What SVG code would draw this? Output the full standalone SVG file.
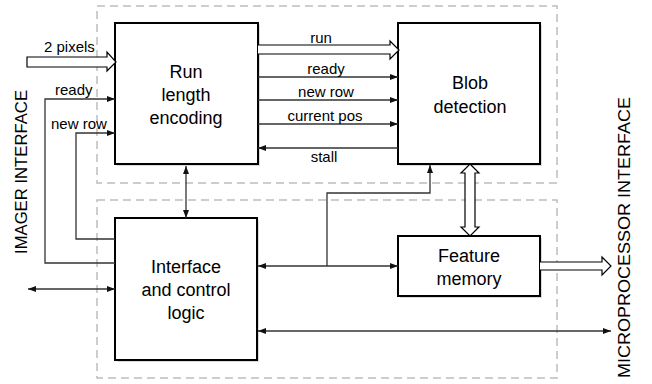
<svg xmlns="http://www.w3.org/2000/svg" width="652" height="384" viewBox="0 0 652 384">
<style>
.box{fill:#fff;stroke:#000;stroke-width:2}
.shadow{fill:#999;opacity:0.35}
.dash{fill:none;stroke:#bdbdbd;stroke-width:1.5;stroke-dasharray:8,5}
.btxt{font-family:"Liberation Sans",Arial,sans-serif;font-size:18px;fill:#000;text-anchor:middle}
.lbl{font-family:"Liberation Sans",Arial,sans-serif;font-size:15px;fill:#000}
.side{font-family:"Liberation Sans",Arial,sans-serif;font-size:17px;fill:#000}
.ln{fill:none;stroke:#333;stroke-width:1.3}
.hol{fill:#fff;stroke:#000;stroke-width:1.2}
</style>
<defs>
<marker id="ah" viewBox="0 0 8 6" refX="8" refY="3" markerWidth="8" markerHeight="6" markerUnits="userSpaceOnUse" orient="auto-start-reverse">
<path d="M0,0 L8,3 L0,6 z" fill="#111"/>
</marker>
</defs>
<rect class="dash" x="97" y="6" width="460" height="177"/>
<rect class="dash" x="97" y="200" width="460" height="178"/>
<text class="side" transform="translate(27,254) rotate(-90)" textLength="164" lengthAdjust="spacingAndGlyphs">IMAGER INTERFACE</text>
<text class="side" transform="translate(630,378) rotate(-90)" textLength="281" lengthAdjust="spacingAndGlyphs">MICROPROCESSOR  INTERFACE</text>
<g id="rle">
<rect class="shadow" x="117" y="25" width="143" height="141"/>
<rect class="box" x="115" y="23" width="143" height="141"/>
<text class="btxt" x="186" y="78">Run</text>
<text class="btxt" x="186" y="101">length</text>
<text class="btxt" x="186" y="124">encoding</text>
</g>
<g id="blob">
<rect class="shadow" x="400" y="25" width="142" height="141"/>
<rect class="box" x="398" y="23" width="142" height="141"/>
<text class="btxt" x="470" y="89">Blob</text>
<text class="btxt" x="470" y="113">detection</text>
</g>
<g id="iface">
<rect class="shadow" x="117" y="220" width="142" height="142"/>
<rect class="box" x="115" y="218" width="142" height="142"/>
<text class="btxt" x="186" y="273">Interface</text>
<text class="btxt" x="186" y="296">and control</text>
<text class="btxt" x="186" y="319">logic</text>
</g>
<g id="fmem">
<rect class="shadow" x="400" y="238" width="142" height="60"/>
<rect class="box" x="398" y="236" width="142" height="60"/>
<text class="btxt" x="469" y="262">Feature</text>
<text class="btxt" x="469" y="285">memory</text>
</g>
<g id="connectors">
<!-- 2 pixels -->
<path class="hol" d="M27,57 H107 V52 L116,62 L107,71 V67 H27 Z"/>
<text class="lbl" x="44" y="52">2 pixels</text>
<!-- run -->
<path class="hol" d="M258,45 H390 V41 L399,50 L390,59 V54 H258"/>
<text class="lbl" x="321" y="43" text-anchor="middle">run</text>
<!-- ready -->
<line class="ln" x1="258" y1="77" x2="398" y2="77" marker-end="url(#ah)"/>
<text class="lbl" x="326" y="74" text-anchor="middle">ready</text>
<line class="ln" x1="258" y1="100" x2="398" y2="100" marker-end="url(#ah)"/>
<text class="lbl" x="326" y="97" text-anchor="middle">new row</text>
<line class="ln" x1="258" y1="124" x2="398" y2="124" marker-end="url(#ah)"/>
<text class="lbl" x="325" y="121" text-anchor="middle">current pos</text>
<line class="ln" x1="398" y1="148" x2="258" y2="148" marker-end="url(#ah)"/>
<text class="lbl" x="324" y="162" text-anchor="middle">stall</text>
<!-- left inputs -->
<path class="ln" d="M115,263 H45 V99 H115" marker-end="url(#ah)"/>
<text class="lbl" x="55" y="95">ready</text>
<path class="ln" d="M115,239 H76 V133 H115" marker-end="url(#ah)"/>
<text class="lbl" x="51" y="129">new row</text>
<!-- RLE <-> interface -->
<line class="ln" x1="186" y1="166" x2="186" y2="218" marker-start="url(#ah)" marker-end="url(#ah)"/>
<!-- left bidirectional -->
<line class="ln" x1="28" y1="289" x2="115" y2="289" marker-start="url(#ah)" marker-end="url(#ah)"/>
<!-- interface <-> feature memory -->
<line class="ln" x1="258" y1="266" x2="398" y2="266" marker-start="url(#ah)" marker-end="url(#ah)"/>
<path class="ln" d="M327,266 V193 H430 V165" marker-end="url(#ah)"/>
<!-- blob <-> feature memory -->
<path class="hol" d="M470,164 L479,173 H475 V227 H479 L470,236 L461,227 H465 V173 H461 Z"/>
<!-- feature memory -> microprocessor -->
<path class="hol" d="M540,262 H602 V257 L611,266 L602,275 V270 H540"/>
<!-- bottom bus -->
<line class="ln" x1="258" y1="331" x2="611" y2="331" marker-start="url(#ah)" marker-end="url(#ah)"/>
</g>
</svg>
